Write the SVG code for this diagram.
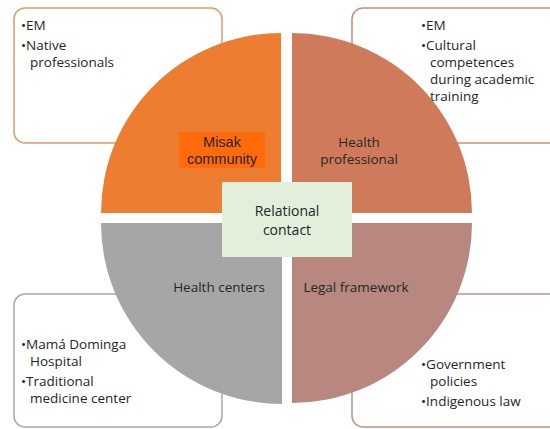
<svg xmlns="http://www.w3.org/2000/svg" width="550" height="429" viewBox="0 0 550 429">
  <style>
    .txt { font-family: "Open Sans", "Noto Sans", "DejaVu Sans", sans-serif; font-size: 13.5px; fill: #262626; }
    .lbl { font-family: "Open Sans", "Noto Sans", "DejaVu Sans", sans-serif; font-size: 13.5px; fill: #262626; text-anchor: middle; }
    .arial { font-family: "Liberation Sans", Arial, sans-serif; font-size: 14.5px; fill: #262626; text-anchor: middle; }
    .box { fill: #ffffff; stroke-width: 1.5; }
  </style>

  <rect width="550" height="429" fill="#ffffff"/>

  <!-- detail boxes sit behind the pie -->
  <g id="box-community">
    <rect class="box" x="14" y="8" width="208" height="135" rx="11" stroke="#E59A68"/>
    <text class="txt"><tspan x="21" y="30">•EM</tspan><tspan x="21" y="50">•Native</tspan><tspan x="30" y="67">professionals</tspan></text>
  </g>
  <g id="box-professional">
    <rect class="box" x="352" y="8" width="210" height="135" rx="11" stroke="#CC8B74"/>
    <text class="txt"><tspan x="421" y="30">•EM</tspan><tspan x="421" y="50">•Cultural</tspan><tspan x="430" y="67">competences</tspan><tspan x="430" y="84">during academic</tspan><tspan x="430" y="101">training</tspan></text>
  </g>
  <g id="box-centers">
    <rect class="box" x="14" y="294" width="208" height="133" rx="11" stroke="#A8A8A8"/>
    <text class="txt"><tspan x="21" y="349">•Mamá Dominga</tspan><tspan x="30" y="366">Hospital</tspan><tspan x="21" y="386">•Traditional</tspan><tspan x="30" y="403">medicine center</tspan></text>
  </g>
  <g id="box-legal">
    <rect class="box" x="352" y="294" width="210" height="133" rx="11" stroke="#BC928C"/>
    <text class="txt"><tspan x="421" y="369">•Government</tspan><tspan x="430" y="386">policies</tspan><tspan x="421" y="406">•Indigenous law</tspan></text>
  </g>

  <!-- four quadrants of the pie -->
  <g id="q-community">
    <path d="M281,213 L101,213 A180,180 0 0 1 281,33 Z" fill="#ED7D31"/>
    <rect x="179" y="132" width="86" height="36" fill="#FF6A0A"/>
    <text class="arial"><tspan x="222" y="147">Misak</tspan><tspan x="222" y="164">community</tspan></text>
  </g>
  <g id="q-professional">
    <path d="M292,213 L292,33 A180,180 0 0 1 472,213 Z" fill="#CF7B5B"/>
    <text class="lbl"><tspan x="359" y="147">Health</tspan><tspan x="359" y="164">professional</tspan></text>
  </g>
  <g id="q-centers">
    <path d="M282,223 L282,404 A181,181 0 0 1 101,223 Z" fill="#A6A6A6"/>
    <text class="lbl" x="219" y="292">Health centers</text>
  </g>
  <g id="q-legal">
    <path d="M292,223 L472,223 A180,180 0 0 1 292,403 Z" fill="#B8877F"/>
    <text class="lbl" x="356" y="292">Legal framework</text>
  </g>

  <g id="center">
    <rect x="222" y="182" width="130" height="75" fill="#E2EFDA"/>
    <text class="lbl" style="font-size:14px"><tspan x="287" y="216">Relational</tspan><tspan x="287" y="235">contact</tspan></text>
  </g>
</svg>
